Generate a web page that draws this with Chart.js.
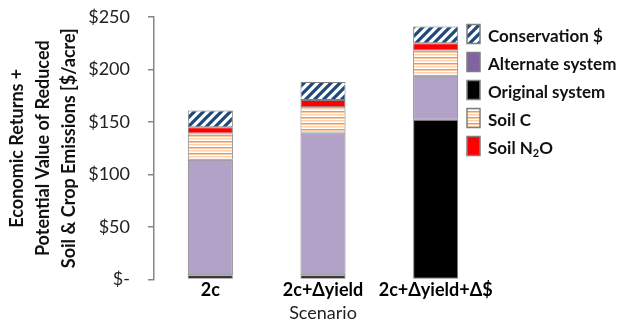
<!DOCTYPE html>
<html>
<head>
<meta charset="utf-8">
<script src="https://cdn.jsdelivr.net/npm/chart.js@4"></script>
<style>
  body { margin: 0; background: #fff; }
  #wrap { width: 625px; height: 322px; position: relative; }
</style>
</head>
<body>
<div id="wrap"><canvas id="chart"></canvas></div>
<script>
// Scenario values, $/acre, stacked bottom to top
const categories = ['2c', '2c+Δyield', '2c+Δyield+Δ$'];
const originalSystem = [4, 4, 152];
const alternateSystem = [110, 136, 42];
const soilC = [25, 24, 24];
const soilN2O = [6, 7, 7];
const conservation = [16, 17, 16];
const yTicks = [0, 50, 100, 150, 200, 250];

const FONT = 'Lato, "Open Sans", sans-serif';
const EDGE = '#7f7f7f';

// diagonal navy hatch on white
function stripePattern() {
  const c = document.createElement('canvas');
  c.width = 9; c.height = 9;
  const g = c.getContext('2d');
  g.fillStyle = '#fff';
  g.fillRect(0, 0, 9, 9);
  g.strokeStyle = '#1f497d';
  g.lineWidth = 3.2;
  g.beginPath();
  g.moveTo(-1, 10); g.lineTo(10, -1);
  g.moveTo(-5.5, 5.5); g.lineTo(5.5, -5.5);
  g.moveTo(3.5, 14.5); g.lineTo(14.5, 3.5);
  g.stroke();
  return g.createPattern(c, 'repeat');
}

// horizontal orange lines on white
function linePattern() {
  const c = document.createElement('canvas');
  c.width = 4; c.height = 6;
  const g = c.getContext('2d');
  g.fillStyle = '#fff';
  g.fillRect(0, 0, 4, 6);
  g.fillStyle = '#fcd2ae';
  g.fillRect(0, 0, 4, 1.5);
  g.fillStyle = '#f79646';
  g.fillRect(0, 3, 4, 1.5);
  return g.createPattern(c, 'repeat');
}

const hatch = stripePattern();
const orange = linePattern();

const datasets = [
  { label: 'Original system', data: originalSystem, backgroundColor: '#000000', legendColor: '#000000' },
  { label: 'Alternate system', data: alternateSystem, backgroundColor: '#b3a2c7', legendColor: '#8064a2' },
  { label: 'Soil C', data: soilC, backgroundColor: orange, legendColor: orange },
  { label: 'Soil N₂O', data: soilN2O, backgroundColor: '#ff0000', legendColor: '#ff0000' },
  { label: 'Conservation $', data: conservation, backgroundColor: hatch, legendColor: hatch }
].map(d => Object.assign(d, {
  borderColor: EDGE,
  borderWidth: 1,
  borderSkipped: false,
  categoryPercentage: 0.4,
  barPercentage: 1
}));

// legend listed in this order down the right side
const legendOrder = ['Conservation $', 'Alternate system', 'Original system', 'Soil C', 'Soil N₂O'];

const sideLegend = {
  id: 'sideLegend',
  afterDraw(chart) {
    const ctx = chart.ctx;
    const x = 467, y0 = 34, step = 28;
    ctx.save();
    ctx.textBaseline = 'middle';
    legendOrder.forEach((name, i) => {
      const ds = chart.data.datasets.find(d => d.label === name);
      const cy = y0 + i * step;
      ctx.fillStyle = ds.legendColor;
      ctx.fillRect(x, cy - 9.5, 13, 19);
      ctx.strokeStyle = EDGE;
      ctx.lineWidth = 1.5;
      ctx.strokeRect(x, cy - 9.5, 13, 19);
      // text, with a small lowered "2" for the subscript
      ctx.fillStyle = '#111';
      const ty = cy + 3;
      const parts = name.split('₂');
      let tx = 488;
      ctx.font = 'bold 17px ' + FONT;
      ctx.fillText(parts[0], tx, ty);
      if (parts.length > 1) {
        tx += ctx.measureText(parts[0]).width;
        ctx.font = 'bold 11px ' + FONT;
        ctx.fillText('2', tx, ty + 4);
        tx += ctx.measureText('2').width;
        ctx.font = 'bold 17px ' + FONT;
        ctx.fillText(parts[1], tx, ty);
      }
    });
    ctx.restore();
  }
};

new Chart(document.getElementById('chart'), {
  type: 'bar',
  data: { labels: categories, datasets },
  plugins: [sideLegend],
  options: {
    responsive: true,
    maintainAspectRatio: false,
    animation: false,
    layout: { padding: { top: 0, right: 133, left: 0, bottom: 0 } },
    plugins: { legend: { display: false }, tooltip: { enabled: false } },
    scales: {
      x: {
        stacked: true,
        grid: { display: false, drawTicks: false },
        border: { display: false },
        ticks: {
          color: '#000', padding: 0, autoSkip: false, maxRotation: 0, minRotation: 0,
          font: { family: FONT, size: 18, weight: 'bold' }
        },
        title: {
          display: true, text: 'Scenario', color: '#222',
          padding: { top: 3, bottom: 0 },
          font: { family: FONT, size: 18, lineHeight: 1 }
        }
      },
      y: {
        stacked: true,
        min: 0,
        max: 250,
        afterFit: s => { s.width = 154; s.paddingTop = 17; },
        afterBuildTicks: s => { s.ticks = yTicks.map(v => ({ value: v })); },
        grid: { drawOnChartArea: false, drawTicks: true, tickLength: 6, color: '#868686', lineWidth: 1.5 },
        border: { display: true, color: '#868686', width: 1.5 },
        ticks: {
          color: '#222',
          padding: 18,
          font: { family: FONT, size: 18 },
          callback: v => v === 0 ? '$-' : '$' + v
        },
        title: {
          display: true,
          text: ['Economic Returns +', 'Potential Value of Reduced', 'Soil & Crop Emissions [$/acre]'],
          color: '#111',
          padding: { top: 4, bottom: 0 },
          font: { family: FONT, size: 18, weight: 'bold', lineHeight: 1.44 }
        }
      }
    }
  }
});
</script>
</body>
</html>
